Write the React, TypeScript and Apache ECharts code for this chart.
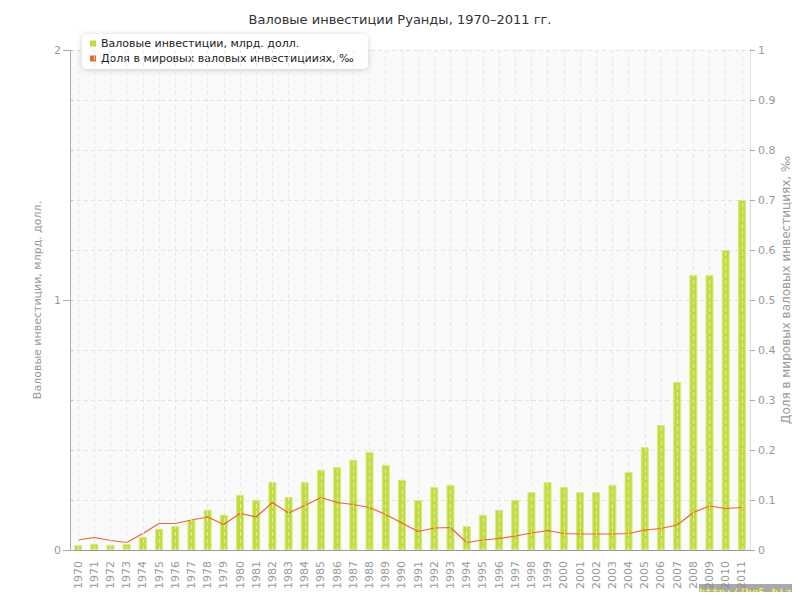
import React, { useEffect, useRef } from "react";
import * as echarts from "echarts";

const years = [
  "1970","1971","1972","1973","1974","1975","1976","1977","1978","1979",
  "1980","1981","1982","1983","1984","1985","1986","1987","1988","1989",
  "1990","1991","1992","1993","1994","1995","1996","1997","1998","1999",
  "2000","2001","2002","2003","2004","2005","2006","2007","2008","2009",
  "2010","2011",
];

const investments = [
  0.019, 0.025, 0.021, 0.024, 0.053, 0.085, 0.096, 0.121, 0.161, 0.141,
  0.221, 0.201, 0.272, 0.212, 0.272, 0.321, 0.332, 0.361, 0.392, 0.341,
  0.281, 0.2, 0.252, 0.261, 0.096, 0.141, 0.161, 0.201, 0.232, 0.272,
  0.252, 0.232, 0.232, 0.261, 0.312, 0.412, 0.5, 0.672, 1.1, 1.1,
  1.2, 1.4,
];

const worldShare = [
  0.02, 0.025, 0.019, 0.015, 0.033, 0.053, 0.053, 0.06, 0.066, 0.051,
  0.073, 0.066, 0.095, 0.074, 0.089, 0.105, 0.095, 0.091, 0.085, 0.071,
  0.054, 0.037, 0.044, 0.045, 0.015, 0.02, 0.023, 0.028, 0.034, 0.039,
  0.033, 0.032, 0.032, 0.032, 0.033, 0.04, 0.043, 0.05, 0.075, 0.088,
  0.083, 0.085,
];

const titleText = "Валовые инвестиции Руанды, 1970–2011 гг.";
const seriesNames = [
  "Валовые инвестиции, млрд. долл.",
  "Доля в мировых валовых инвестицииях, ‰",
];
const seriesColors = ["#c2dc38", "#e8662f"];
const leftAxisName = "Валовые инвестиции, млрд. долл.";
const rightAxisName = "Доля в мировых валовых инвестициях, ‰";
const watermark = "http://be5.biz/";

const FONT = "DejaVu Sans";

export default function App() {
  const ref = useRef<HTMLDivElement>(null);

  useEffect(() => {
    if (!ref.current) return;
    const chart = echarts.init(ref.current, null, { renderer: "svg" });
    const option: any = {
      animation: false,
      backgroundColor: "#ffffff",
      textStyle: { fontFamily: FONT },
      title: {
        text: titleText,
        left: "center",
        top: 8,
        textStyle: { fontSize: 13, fontWeight: "normal", color: "#333", fontFamily: FONT },
      },
      legend: {
        orient: "vertical",
        left: 82,
        top: 34,
        itemWidth: 6,
        itemHeight: 6,
        itemGap: 4,
        icon: "rect",
        padding: [4, 14, 5, 8],
        backgroundColor: "#ffffff",
        borderRadius: 5,
        shadowBlur: 6,
        shadowColor: "rgba(0,0,0,0.18)",
        shadowOffsetY: 1,
        textStyle: { fontSize: 11, color: "#222", fontFamily: FONT },
        data: seriesNames.map((n, i) => ({
          name: n,
          icon: "rect",
          itemStyle: { color: seriesColors[i], borderWidth: 0 },
        })),
      },
      grid: {
        left: 70,
        right: 50,
        top: 50,
        bottom: 50,
        show: true,
        backgroundColor: "#fafafa",
        borderWidth: 0,
        containLabel: false,
        outerBoundsMode: "none",
      },
      xAxis: {
        type: "category",
        data: years,
        boundaryGap: true,
        axisLine: { lineStyle: { color: "#999" } },
        axisTick: { alignWithLabel: true, length: 5, lineStyle: { color: "#999" } },
        axisLabel: { rotate: 90, color: "#999", fontSize: 11, margin: 11, fontFamily: FONT },
        splitLine: { show: false },
      },
      yAxis: [
        {
          type: "value",
          min: 0,
          max: 2,
          interval: 1,
          position: "left",
          name: leftAxisName,
          nameLocation: "middle",
          nameGap: 18,
          nameTextStyle: { color: "#999", fontSize: 11, fontFamily: FONT },
          axisLine: { show: true, lineStyle: { color: "#aaa" } },
          axisTick: { show: true, length: 7, lineStyle: { color: "#aaa" } },
          axisLabel: { color: "#999", fontSize: 11, margin: 9, fontFamily: FONT },
          splitLine: { show: false },
        },
        {
          type: "value",
          min: 0,
          max: 1,
          interval: 0.1,
          position: "right",
          axisLine: { show: true, lineStyle: { color: "#ddd" } },
          axisTick: { show: true, length: 5, lineStyle: { color: "#aaa" } },
          axisLabel: { color: "#999", fontSize: 11, margin: 8, fontFamily: FONT },
          splitLine: { show: true, lineStyle: { color: "#e3e3e3", type: [4, 3] } },
        },
        {
          type: "value",
          min: 0,
          max: 2,
          interval: 0.2,
          position: "left",
          axisLine: { show: false },
          axisTick: { show: true, inside: true, length: 3, lineStyle: { color: "#bbb" } },
          axisLabel: { show: false },
          splitLine: { show: false },
        },
      ],
      series: [
        {
          name: seriesNames[0],
          type: "bar",
          yAxisIndex: 0,
          data: investments,
          barWidth: 8,
          itemStyle: { color: seriesColors[0], borderColor: "#d6ea86", borderWidth: 1 },
          markLine: {
            silent: true,
            symbol: "none",
            label: { show: false },
            lineStyle: { color: "rgba(228,228,228,0.9)", type: [4, 3], width: 1 },
            data: years.map((y) => ({ xAxis: y })),
          },
          z: 2,
        },
        {
          name: seriesNames[1],
          type: "line",
          yAxisIndex: 1,
          data: worldShare,
          showSymbol: false,
          symbol: "none",
          lineStyle: { color: seriesColors[1], width: 1.2 },
          itemStyle: { color: seriesColors[1] },
          z: 4,
        },
      ],
      graphic: [
        {
          type: "text",
          x: 786,
          y: 290,
          rotation: Math.PI / 2,
          style: {
            text: rightAxisName,
            fill: "#999",
            fontSize: 12,
            fontFamily: FONT,
            align: "center",
            verticalAlign: "middle",
          },
          z: 5,
        },
        {
          type: "rect",
          x: 699,
          y: 584,
          shape: { x: 0, y: 0, width: 101, height: 16 },
          style: { fill: "rgba(140,140,140,0.75)" },
          z: 10,
        },
        {
          type: "text",
          x: 798,
          y: 592,
          style: {
            text: watermark,
            fill: "#ffff33",
            fontSize: 11,
            fontFamily: "DejaVu Sans Mono",
            align: "right",
            verticalAlign: "middle",
          },
          z: 11,
        },
      ],
    };
    chart.setOption(option);
    return () => chart.dispose();
  }, []);

  return <div ref={ref} style={{ width: 800, height: 600, margin: -8 }} />;
}
